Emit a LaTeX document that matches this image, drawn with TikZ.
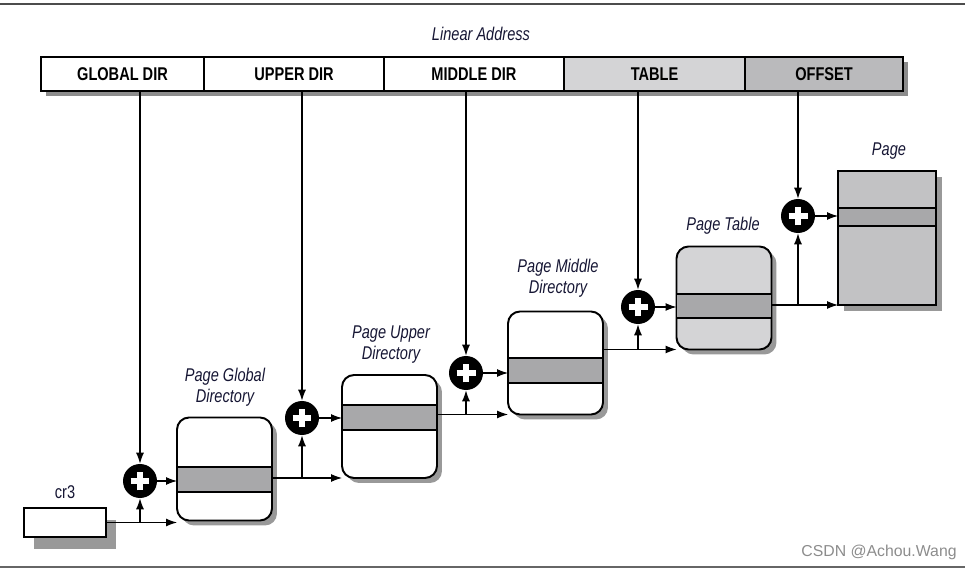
\documentclass[tikz,border=0pt]{standalone}
\usepackage{fontspec}
\setmainfont{Liberation Sans}[FakeStretch=0.79]
\newfontfamily\wmfont{Liberation Sans}
\usepackage{tikz}
\usetikzlibrary{arrows.meta,shadows}
\definecolor{lblcol}{RGB}{22,22,52}
\definecolor{stripe}{RGB}{168,168,170}
\definecolor{tblgray}{RGB}{212,212,214}
\definecolor{pagegray}{RGB}{194,194,196}
\definecolor{ofsgray}{RGB}{186,186,188}

\begin{document}
\begin{tikzpicture}[x=0.02cm, y=-0.02cm,
        >={Latex[length=2.2mm,width=1.6mm]},
        conn/.style={->, line width=0.6pt},
        field/.style={draw, line width=1.1pt, minimum height=0.68cm, inner sep=0pt,
            font=\bfseries\fontsize{10.5}{12}\selectfont},
        lbl/.style={font=\itshape\fontsize{10.5}{12}\selectfont, text=lblcol, align=center},
        plus/.style={circle, fill=black, minimum size=0.68cm, inner sep=0pt,
            path picture={\draw[white, line width=3pt]
                (path picture bounding box.center) +(-0.19cm,0) -- +(0.19cm,0)
                (path picture bounding box.center) +(0,-0.19cm) -- +(0,0.19cm);}},
        tblbox/.style={draw, line width=1.1pt, rounded corners=0.24cm, minimum width=1.9cm,
            minimum height=2.06cm, fill=white, outer sep=0pt,
            drop shadow={shadow xshift=0.1cm, shadow yshift=-0.1cm, fill=black!40, opacity=1}},
        strip/.style={fill=stripe, draw, line width=1.1pt}]
    \useasboundingbox (0,0) rectangle (965,571);
    \draw[line width=1.5pt, black!70] (0,4) -- (965,4);
    \draw[line width=1.5pt, black!60] (0,567) -- (965,567);

    % linear address
    \node[lbl] (la) at (481,34) {Linear Address};
    \fill[black!45] (46,62) rectangle (908,96);
    \node[field, fill=white, minimum width=3.26cm] (gdir) at (122.5,74) {GLOBAL DIR};
    \node[field, fill=white, minimum width=3.6cm] (udir) at (294,74) {UPPER DIR};
    \node[field, fill=white, minimum width=3.6cm] (mdir) at (474,74) {MIDDLE DIR};
    \node[field, fill=tblgray, minimum width=3.62cm] (tbl) at (654.5,74) {TABLE};
    \node[field, fill=ofsgray, minimum width=3.16cm] (ofs) at (824,74) {OFFSET};

    % tables
    \node[draw, line width=1.1pt, fill=white, minimum width=1.64cm, minimum height=0.58cm, outer sep=0pt,
        drop shadow={shadow xshift=0.2cm, shadow yshift=-0.24cm, fill=black!40, opacity=1}] (cr3) at (65,522.5) {};
    \node[font=\fontsize{10.5}{12}\selectfont, text=lblcol] (lcr3) at (65,492) {cr3};

    \node[tblbox] (pgd) at (224.5,469) {};
    \filldraw[strip] (pgd.west |- 0,467) rectangle (pgd.east |- 0,492);
    \node[tblbox] (pud) at (389.5,426.5) {};
    \filldraw[strip] (pud.west |- 0,405) rectangle (pud.east |- 0,430);
    \node[tblbox] (pmd) at (555.5,363) {};
    \filldraw[strip] (pmd.west |- 0,358) rectangle (pmd.east |- 0,383);
    \node[tblbox, fill=tblgray] (pt) at (724,298) {};
    \filldraw[strip] (pt.west |- 0,294) rectangle (pt.east |- 0,318);
    \node[draw, line width=1.1pt, fill=pagegray, minimum width=1.96cm, minimum height=2.68cm, outer sep=0pt,
        drop shadow={shadow xshift=0.12cm, shadow yshift=-0.12cm, fill=black!40, opacity=1}] (page) at (887,238) {};
    \filldraw[strip] (page.west |- 0,208) rectangle (page.east |- 0,226);

    \node[lbl] (lpgd) at (225,387) {Page Global\\Directory};
    \node[lbl] (lpud) at (391,345) {Page Upper\\Directory};
    \node[lbl] (lpmd) at (558,278) {Page Middle\\Directory};
    \node[lbl] (lpt) at (723,226) {Page Table};
    \node[lbl] (lpage) at (889,151) {Page};

    % adders
    \node[plus] (p1) at (140,481) {};
    \node[plus] (p2) at (302,418) {};
    \node[plus] (p3) at (466,373) {};
    \node[plus] (p4) at (638,307) {};
    \node[plus] (p5) at (798,216) {};

    \draw[conn] (p1 |- gdir.south) -- (p1);
    \draw[conn] (p2 |- udir.south) -- (p2);
    \draw[conn] (p3 |- mdir.south) -- (p3);
    \draw[conn] (p4 |- tbl.south) -- (p4);
    \draw[conn] (p5 |- ofs.south) -- (p5);

    \draw[conn] (p1) -- (p1 -| pgd.west);
    \draw[conn] (p2) -- (p2 -| pud.west);
    \draw[conn] (p3) -- (p3 -| pmd.west);
    \draw[conn] (p4) -- (p4 -| pt.west);
    \draw[conn] (p5) -- (p5 -| page.west);

    \draw[conn] (cr3.east) -- (cr3.east -| pgd.west);
    \draw[conn] (p1 |- cr3.east) -- (p1);
    \draw[conn] (pgd.east |- pud.south) -- (pud.south west);
    \draw[conn] (p2 |- pud.south) -- (p2);
    \draw[conn] (pud.east |- pmd.south) -- (pmd.south west);
    \draw[conn] (p3 |- pmd.south) -- (p3);
    \draw[conn] (pmd.east |- pt.south) -- (pt.south west);
    \draw[conn] (p4 |- pt.south) -- (p4);
    \draw[conn] (pt.east |- page.south) -- (page.south west);
    \draw[conn] (p5 |- page.south) -- (p5);

    \node[font=\wmfont\fontsize{9}{11}\selectfont, text=black!45] (wm) at (879,552) {CSDN @Achou.Wang};
\end{tikzpicture}
\end{document}
